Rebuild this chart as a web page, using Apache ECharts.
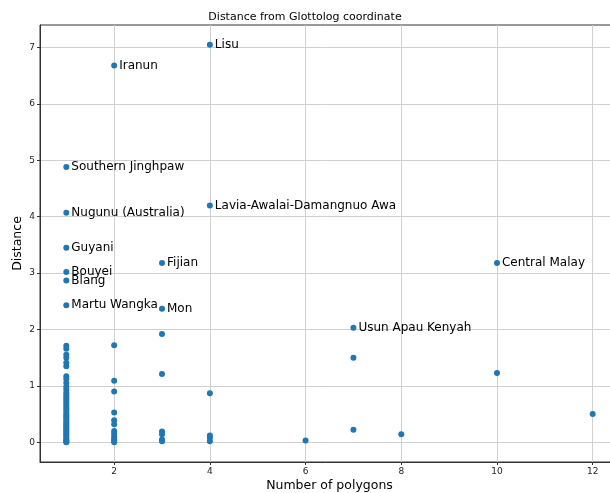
<!DOCTYPE html>
<html>
<head>
<meta charset="utf-8">
<script src="https://cdn.jsdelivr.net/npm/echarts@6/dist/echarts.min.js"></script>
<style>html,body{margin:0;padding:0;background:#fff}#c{width:610px;height:493px}</style>
</head>
<body>
<div id="c"></div>
<script>
// Labelled points
var labelNames = ["Lisu","Iranun","Southern Jinghpaw","Lavia-Awalai-Damangnuo Awa","Nugunu (Australia)","Guyani","Fijian","Central Malay","Bouyei","Blang","Martu Wangka","Mon","Usun Apau Kenyah"];
var labelX = [4,2,1,4,1,1,3,10,1,1,1,3,7];
var labelY = [7.05,6.68,4.88,4.20,4.07,3.45,3.18,3.18,3.02,2.87,2.43,2.37,2.03];

// Unlabelled points
var plainX = [
  1,1,1,1,1,1,1,1,1,1,1,1,1,1,1,1,1,1,1,1,1,1,1,1,1,1,1,1,1,1,1,1,1,1,1,1,1,1,1,
  2,2,2,2,2,2,2,2,2,2,2,2,
  3,3,3,3,3,3,
  4,4,4,4,
  6,7,7,8,10,12
];
var plainY = [
  1.71,1.66,1.55,1.50,1.41,1.35,1.17,1.12,1.05,0.98,0.93,0.88,0.84,0.80,0.76,0.72,0.68,0.64,0.60,0.56,0.52,0.48,0.45,0.42,0.38,0.35,0.32,0.29,0.26,0.23,0.20,0.17,0.14,0.11,0.08,0.05,0.03,0.01,0.00,
  1.72,1.09,0.90,0.53,0.39,0.32,0.20,0.15,0.10,0.06,0.03,0.00,
  1.92,1.21,0.19,0.14,0.05,0.02,
  0.87,0.12,0.08,0.02,
  0.03,1.50,0.22,0.14,1.23,0.50
];
var xTicks = [2,4,6,8,10,12];
var yTicks = [0,1,2,3,4,5,6,7];

var plainData = plainX.map(function(x,i){return [x, plainY[i]];});
var labelData = labelX.map(function(x,i){return [x, labelY[i], labelNames[i]];});

var chart = echarts.init(document.getElementById('c'), null, {renderer:'canvas'});
var font = 'DejaVu Sans';
chart.setOption({
  animation:false,
  backgroundColor:'#fff',
  title:{text:'Distance from Glottolog coordinate', left:'center', top:7,
    textStyle:{fontFamily:font, fontSize:11, fontWeight:'normal', color:'#000'}},
  grid:{left:40, right:-9, top:25, bottom:31, show:true, borderColor:'#333', borderWidth:1, backgroundColor:'transparent',
    outerBoundsMode:'none', containLabel:false},
  xAxis:{type:'value', min:0.45, max:12.55, interval:2,
    name:'Number of polygons', nameLocation:'middle', nameGap:17, nameMoveOverlap:false,
    nameTextStyle:{fontFamily:font, fontSize:12.5, color:'#000'},
    axisLine:{show:true, onZero:false, lineStyle:{color:'#333'}},
    axisTick:{show:true, length:3, lineStyle:{color:'#333'}, customValues:xTicks},
    axisLabel:{fontFamily:font, fontSize:9, color:'#222', customValues:xTicks, margin:5},
    splitLine:{show:true, lineStyle:{color:'#d0d0d0', width:1}, customValues:xTicks}
  },
  yAxis:{type:'value', min:-0.35, max:7.4,
    name:'Distance', nameLocation:'middle', nameGap:16, nameMoveOverlap:false,
    nameTextStyle:{fontFamily:font, fontSize:12.5, color:'#000'},
    axisLine:{show:true, onZero:false, lineStyle:{color:'#333'}},
    axisTick:{show:true, length:3, lineStyle:{color:'#333'}, customValues:yTicks},
    axisLabel:{fontFamily:font, fontSize:9, color:'#222', customValues:yTicks, margin:5},
    splitLine:{show:true, lineStyle:{color:'#d0d0d0', width:1}, customValues:yTicks}
  },
  series:[
    {type:'scatter', data:plainData, symbolSize:6, itemStyle:{color:'#1f77b4', opacity:1}, z:3},
    {type:'scatter', data:labelData, symbolSize:6, itemStyle:{color:'#1f77b4', opacity:1}, z:4,
      label:{show:true, position:'right', distance:2, fontFamily:font, fontSize:12, color:'#000',
        formatter:function(p){return p.data[2];}},
      labelLayout:{hideOverlap:false}
    }
  ]
});
</script>
</body>
</html>
